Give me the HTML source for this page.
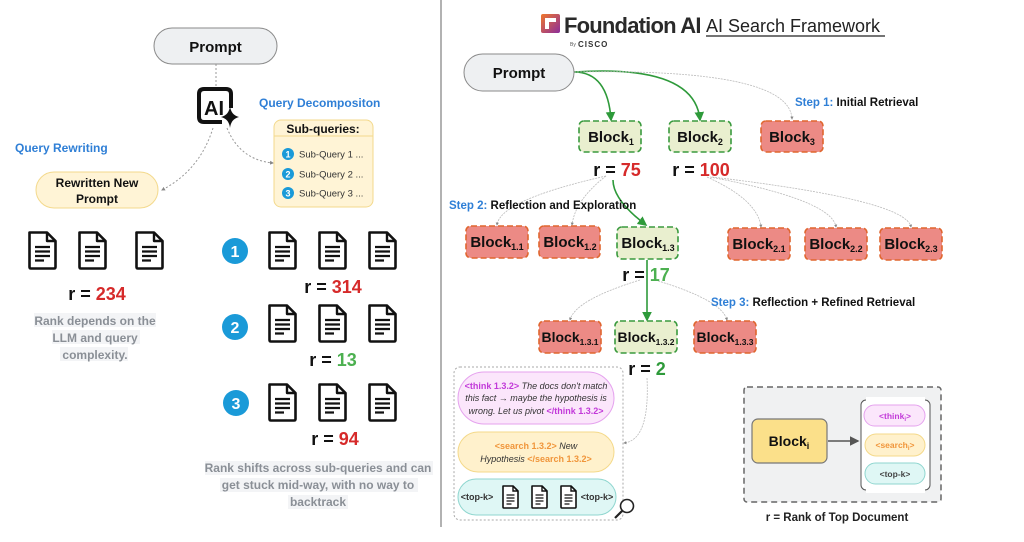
<!DOCTYPE html>
<html><head><meta charset="utf-8"><style>
html,body{margin:0;padding:0;background:#fff;}
svg{display:block;font-family:"Liberation Sans",sans-serif;}
.b{font-weight:bold;}
</style></head><body>
<svg width="1024" height="542" viewBox="0 0 1024 542" xmlns="http://www.w3.org/2000/svg">
<defs>
<g id="doc">
<path d="M1.5 1.5 H19 L27.5 10 V36 Q27.5 37.5 26 37.5 H3 Q1.5 37.5 1.5 36 Z" fill="#fff" stroke="#111" stroke-width="2.6" stroke-linejoin="round"/>
<path d="M19 1.5 V10 H27.5" fill="none" stroke="#111" stroke-width="2.4" stroke-linejoin="round"/>
<path d="M7 16 H22 M7 20.5 H22 M7 25 H22 M7 29.5 H16" stroke="#111" stroke-width="2.2"/>
</g>
<g id="sdoc">
<path d="M1 1 H11 L16 6 V22 Q16 23 15 23 H2 Q1 23 1 22 Z" fill="#fff" stroke="#111" stroke-width="1.6" stroke-linejoin="round"/>
<path d="M11 1 V6 H16" fill="none" stroke="#111" stroke-width="1.4"/>
<path d="M4.5 10 H12.5 M4.5 13 H12.5 M4.5 16 H12.5 M4.5 19 H9.5" stroke="#111" stroke-width="1.3"/>
</g>
<marker id="ag" markerWidth="6" markerHeight="6" refX="5" refY="3" orient="auto"><path d="M0 0 L6 3 L0 6 Z" fill="#2e9a3a"/></marker>
<marker id="ay" markerWidth="4" markerHeight="4" refX="3" refY="2" orient="auto"><path d="M0 0 L4 2 L0 4 Z" fill="#888"/></marker>
<marker id="ad" markerWidth="6" markerHeight="6" refX="5" refY="3" orient="auto"><path d="M0 0 L6 3 L0 6 Z" fill="#555"/></marker>
<linearGradient id="lg" x1="0" y1="0" x2="1" y2="1"><stop offset="0" stop-color="#f0772b"/><stop offset="1" stop-color="#8b2d9c"/></linearGradient>
</defs>

<line x1="441" y1="0" x2="441" y2="527" stroke="#999" stroke-width="1.5"/>

<line x1="216" y1="64" x2="216" y2="88" stroke="#999" stroke-width="1" stroke-dasharray="2 2"/>
<rect x="154" y="28" width="123" height="36" rx="18" fill="#eef0f2" stroke="#8a8a8a"/>
<text x="215.5" y="52" font-size="15" class="b" text-anchor="middle" fill="#111">Prompt</text>

<!-- AI icon -->
<path d="M222 122 H204 Q199 122 199 117 V94 Q199 89 204 89 H226 Q231 89 231 94 V108" fill="none" stroke="#111" stroke-width="4"/>
<text x="214" y="115" font-size="20" class="b" text-anchor="middle" fill="#111">AI</text>
<path d="M230 106 Q231 115 239 117 Q231 119 230 128 Q229 119 221 117 Q229 115 230 106 Z" fill="#111"/>

<path d="M213 128 Q200 170 162 190" fill="none" stroke="#999" stroke-dasharray="2 2" marker-end="url(#ay)"/>
<path d="M227 128 Q240 160 273 163" fill="none" stroke="#999" stroke-dasharray="2 2" marker-end="url(#ay)"/>

<text x="259" y="107" font-size="12" class="b" fill="#2f7fd6">Query Decompositon</text>
<text x="15" y="152" font-size="12" class="b" fill="#2f7fd6">Query Rewriting</text>

<rect x="274" y="120" width="99" height="87" rx="7" fill="#fff4d6" stroke="#f3d98c"/>
<line x1="274" y1="136" x2="373" y2="136" stroke="#f3d98c"/>
<text x="323" y="133" font-size="12" class="b" text-anchor="middle" fill="#111">Sub-queries:</text>
<g font-size="9.5" fill="#333">
<circle cx="288" cy="154" r="6" fill="#1a9ad8"/><text x="288" y="157.5" font-size="9" class="b" text-anchor="middle" fill="#fff">1</text><text x="299" y="157.5">Sub-Query 1 ...</text>
<circle cx="288" cy="174" r="6" fill="#1a9ad8"/><text x="288" y="177.5" font-size="9" class="b" text-anchor="middle" fill="#fff">2</text><text x="299" y="177.5">Sub-Query 2 ...</text>
<circle cx="288" cy="193" r="6" fill="#1a9ad8"/><text x="288" y="196.5" font-size="9" class="b" text-anchor="middle" fill="#fff">3</text><text x="299" y="196.5">Sub-Query 3 ...</text>
</g>

<rect x="36" y="172" width="122" height="36" rx="18" fill="#fff4d6" stroke="#f3d98c"/>
<text x="97" y="187" font-size="12" class="b" text-anchor="middle" fill="#111">Rewritten New</text>
<text x="97" y="203" font-size="12" class="b" text-anchor="middle" fill="#111">Prompt</text>

<use href="#doc" x="28" y="231"/><use href="#doc" x="78" y="231"/><use href="#doc" x="135" y="231"/>
<text x="97" y="300" font-size="18" class="b" text-anchor="middle" fill="#111">r = <tspan fill="#d62a2a">234</tspan></text>
<g font-size="12" class="b" fill="#8a8f96" text-anchor="middle">
<rect x="34" y="313" width="122" height="14" fill="#f3f4f6"/>
<rect x="52" y="330" width="88" height="14" fill="#f3f4f6"/>
<rect x="60" y="347" width="68" height="14" fill="#f3f4f6"/>
<text x="95" y="325">Rank depends on the</text>
<text x="95" y="342">LLM and query</text>
<text x="95" y="359">complexity.</text>
</g>

<g>
<circle cx="235" cy="251" r="13" fill="#1a9ad8"/><text x="235" y="257" font-size="16" class="b" text-anchor="middle" fill="#fff">1</text>
<circle cx="235" cy="327" r="13" fill="#1a9ad8"/><text x="235" y="333" font-size="16" class="b" text-anchor="middle" fill="#fff">2</text>
<circle cx="236" cy="403" r="13" fill="#1a9ad8"/><text x="236" y="409" font-size="16" class="b" text-anchor="middle" fill="#fff">3</text>
</g>
<use href="#doc" x="268" y="231"/><use href="#doc" x="318" y="231"/><use href="#doc" x="368" y="231"/>
<use href="#doc" x="268" y="304"/><use href="#doc" x="318" y="304"/><use href="#doc" x="368" y="304"/>
<use href="#doc" x="268" y="383"/><use href="#doc" x="318" y="383"/><use href="#doc" x="368" y="383"/>
<text x="333" y="293" font-size="18" class="b" text-anchor="middle" fill="#111">r = <tspan fill="#d62a2a">314</tspan></text>
<text x="333" y="366" font-size="18" class="b" text-anchor="middle" fill="#111">r = <tspan fill="#4cb050">13</tspan></text>
<text x="335" y="445" font-size="18" class="b" text-anchor="middle" fill="#111">r = <tspan fill="#d62a2a">94</tspan></text>
<g font-size="12" class="b" fill="#8a8f96" text-anchor="middle">
<rect x="205" y="461" width="228" height="14" fill="#f3f4f6"/>
<rect x="220" y="478" width="198" height="14" fill="#f3f4f6"/>
<rect x="288" y="495" width="60" height="14" fill="#f3f4f6"/>
<text x="318" y="472">Rank shifts across sub-queries and can</text>
<text x="318" y="489">get stuck mid-way, with no way to</text>
<text x="318" y="506">backtrack</text>
</g>

<rect x="541" y="14" width="19" height="19" rx="2" fill="url(#lg)"/>
<path d="M545 18 H556 V22 H549 V29 H545 Z" fill="#fff"/>
<text x="564" y="33" font-size="22" class="b" fill="#2a2a2a" letter-spacing="-0.8">Foundation AI</text>
<text x="570" y="46" font-size="5" fill="#555">By</text>
<text x="578" y="47" font-size="8" class="b" fill="#333" letter-spacing="1">CISCO</text>
<text x="706" y="32" font-size="18" fill="#222">AI Search Framework</text>
<line x1="706" y1="36" x2="885" y2="36" stroke="#222" stroke-width="1.2"/>

<path d="M574 72 Q608 72 611 120" fill="none" stroke="#2e9a3a" stroke-width="1.6" marker-end="url(#ag)"/>
<path d="M574 72 Q695 64 700 120" fill="none" stroke="#2e9a3a" stroke-width="1.6" marker-end="url(#ag)"/>
<path d="M574 72 Q790 68 792 119" fill="none" stroke="#bbb" stroke-width="0.8" stroke-dasharray="2 1" marker-end="url(#ay)"/>
<path d="M613 180 Q613 200 646 225" fill="none" stroke="#2e9a3a" stroke-width="1.6" marker-end="url(#ag)"/>
<path d="M606 176 Q500 200 497 225" fill="none" stroke="#bbb" stroke-width="0.8" stroke-dasharray="2 1" marker-end="url(#ay)"/>
<path d="M606 176 Q575 200 572 225" fill="none" stroke="#bbb" stroke-width="0.8" stroke-dasharray="2 1" marker-end="url(#ay)"/>
<path d="M707 177 Q758 200 761 227" fill="none" stroke="#bbb" stroke-width="0.8" stroke-dasharray="2 1" marker-end="url(#ay)"/>
<path d="M710 177 Q832 200 836 227" fill="none" stroke="#bbb" stroke-width="0.8" stroke-dasharray="2 1" marker-end="url(#ay)"/>
<path d="M712 177 Q906 200 911 227" fill="none" stroke="#bbb" stroke-width="0.8" stroke-dasharray="2 1" marker-end="url(#ay)"/>
<path d="M647 260 L647 320" fill="none" stroke="#2e9a3a" stroke-width="1.6" marker-end="url(#ag)"/>
<path d="M640 280 Q575 300 570 320" fill="none" stroke="#bbb" stroke-width="0.8" stroke-dasharray="2 1" marker-end="url(#ay)"/>
<path d="M655 280 Q722 300 727 320" fill="none" stroke="#bbb" stroke-width="0.8" stroke-dasharray="2 1" marker-end="url(#ay)"/>
<path d="M647 378 Q650 440 624 443" fill="none" stroke="#bbb" stroke-width="0.8" stroke-dasharray="2 1" marker-end="url(#ay)"/>

<rect x="464" y="54" width="110" height="37" rx="18.5" fill="#eef0f2" stroke="#8a8a8a"/>
<text x="519" y="78" font-size="15" class="b" text-anchor="middle" fill="#111">Prompt</text>

<text x="795" y="106" font-size="11.5" class="b" fill="#2f7fd6">Step 1: <tspan fill="#111">Initial Retrieval</tspan></text>
<text x="449" y="209" font-size="11.5" class="b" fill="#2f7fd6">Step 2: <tspan fill="#111">Reflection and Exploration</tspan></text>
<text x="711" y="306" font-size="11.5" class="b" fill="#2f7fd6">Step 3: <tspan fill="#111">Reflection + Refined Retrieval</tspan></text>

<g stroke-width="1.6" stroke-dasharray="6 3">
<rect x="579" y="121" width="62" height="31" rx="5" fill="#e9efcf" stroke="#3a9a3e"/>
<rect x="669" y="121" width="62" height="31" rx="5" fill="#e9efcf" stroke="#3a9a3e"/>
<rect x="761" y="121" width="62" height="31" rx="5" fill="#ec8a85" stroke="#e0662f"/>
<rect x="466" y="226" width="62" height="32" rx="5" fill="#ec8a85" stroke="#e0662f"/>
<rect x="539" y="226" width="61" height="32" rx="5" fill="#ec8a85" stroke="#e0662f"/>
<rect x="617" y="227" width="61" height="32" rx="5" fill="#e9efcf" stroke="#3a9a3e"/>
<rect x="728" y="228" width="62" height="32" rx="5" fill="#ec8a85" stroke="#e0662f"/>
<rect x="805" y="228" width="62" height="32" rx="5" fill="#ec8a85" stroke="#e0662f"/>
<rect x="880" y="228" width="62" height="32" rx="5" fill="#ec8a85" stroke="#e0662f"/>
<rect x="539" y="321" width="62" height="32" rx="5" fill="#ec8a85" stroke="#e0662f"/>
<rect x="615" y="321" width="62" height="32" rx="5" fill="#e9efcf" stroke="#3a9a3e"/>
<rect x="694" y="321" width="62" height="32" rx="5" fill="#ec8a85" stroke="#e0662f"/>
</g>
<g font-size="15" class="b" fill="#111" text-anchor="middle">
<text x="611" y="142">Block<tspan font-size="9" dy="3">1</tspan></text>
<text x="700" y="142">Block<tspan font-size="9" dy="3">2</tspan></text>
<text x="792" y="142">Block<tspan font-size="9" dy="3">3</tspan></text>
<text x="497" y="247">Block<tspan font-size="9" dy="3">1.1</tspan></text>
<text x="570" y="247">Block<tspan font-size="9" dy="3">1.2</tspan></text>
<text x="648" y="248">Block<tspan font-size="9" dy="3">1.3</tspan></text>
<text x="759" y="249">Block<tspan font-size="9" dy="3">2.1</tspan></text>
<text x="836" y="249">Block<tspan font-size="9" dy="3">2.2</tspan></text>
<text x="911" y="249">Block<tspan font-size="9" dy="3">2.3</tspan></text>
</g>
<g font-size="14" class="b" fill="#111" text-anchor="middle">
<text x="570" y="342">Block<tspan font-size="8.5" dy="3">1.3.1</tspan></text>
<text x="646" y="342">Block<tspan font-size="8.5" dy="3">1.3.2</tspan></text>
<text x="725" y="342">Block<tspan font-size="8.5" dy="3">1.3.3</tspan></text>
</g>
<g font-size="18" class="b" fill="#111" text-anchor="middle">
<text x="617" y="176">r = <tspan fill="#d62a2a">75</tspan></text>
<text x="701" y="176">r = <tspan fill="#d62a2a">100</tspan></text>
<text x="646" y="281">r = <tspan fill="#4cb050">17</tspan></text>
<text x="647" y="375">r = <tspan fill="#2e9a3a">2</tspan></text>
</g>

<rect x="454" y="367" width="169" height="153" rx="6" fill="none" stroke="#aaa" stroke-dasharray="2 2"/>
<rect x="458" y="372" width="156" height="52" rx="26" fill="#fbe6fb" stroke="#e5a2ee"/>
<g font-size="9" fill="#333" text-anchor="middle" font-style="italic">
<text x="536" y="389"><tspan fill="#c23ad9" font-weight="bold" font-style="normal">&lt;think 1.3.2&gt;</tspan> The docs don't match</text>
<text x="536" y="401">this fact → maybe the hypothesis is</text>
<text x="536" y="414">wrong. Let us pivot <tspan fill="#c23ad9" font-weight="bold" font-style="normal"> &lt;/think 1.3.2&gt;</tspan></text>
</g>
<rect x="458" y="432" width="156" height="40" rx="20" fill="#fff1cc" stroke="#f4d98a"/>
<g font-size="9" fill="#333" text-anchor="middle" font-style="italic">
<text x="536" y="449"><tspan fill="#f0953a" font-weight="bold" font-style="normal">&lt;search 1.3.2&gt;</tspan> New</text>
<text x="536" y="462">Hypothesis <tspan fill="#f0953a" font-weight="bold" font-style="normal">&lt;/search 1.3.2&gt;</tspan></text>
</g>
<rect x="458" y="479" width="158" height="36" rx="18" fill="#dff7f5" stroke="#8fd6cf"/>
<text x="477" y="500" font-size="9" class="b" fill="#333" text-anchor="middle">&lt;top-k&gt;</text>
<text x="597" y="500" font-size="9" class="b" fill="#333" text-anchor="middle">&lt;top-k&gt;</text>
<use href="#sdoc" x="502" y="485"/><use href="#sdoc" x="531" y="485"/><use href="#sdoc" x="560" y="485"/>
<circle cx="627" cy="506" r="6.5" fill="#fff" stroke="#222" stroke-width="1.6"/>
<line x1="622" y1="511" x2="615" y2="518" stroke="#222" stroke-width="2.2"/>

<rect x="744" y="387" width="197" height="115" rx="3" fill="#f0f1f2" stroke="#666" stroke-width="1.5" stroke-dasharray="6 4"/>
<rect x="752" y="419" width="75" height="44" rx="6" fill="#fbe08a" stroke="#777" stroke-width="1.2"/>
<text x="789" y="446" font-size="14" class="b" text-anchor="middle" fill="#111">Block<tspan font-size="9" dy="3">i</tspan></text>
<line x1="828" y1="441" x2="858" y2="441" stroke="#555" stroke-width="1.6" marker-end="url(#ad)"/>
<rect x="861" y="400" width="69" height="90" rx="5" fill="#fff" stroke="#555"/>
<rect x="866" y="397" width="59" height="6" fill="#fff"/>
<rect x="866" y="487" width="59" height="6" fill="#fff"/>
<rect x="864" y="405" width="61" height="21" rx="10.5" fill="#fbe6fb" stroke="#e5a2ee"/>
<rect x="865" y="434" width="60" height="22" rx="11" fill="#fff1cc" stroke="#f4d98a"/>
<rect x="865" y="463" width="60" height="21" rx="10.5" fill="#dff7f5" stroke="#8fd6cf"/>
<g font-size="8.5" class="b" text-anchor="middle">
<text x="895" y="419" fill="#c23ad9">&lt;think<tspan font-size="6" dy="2">i</tspan><tspan dy="-2">&gt;</tspan></text>
<text x="895" y="448" fill="#f0953a">&lt;search<tspan font-size="6" dy="2">i</tspan><tspan dy="-2">&gt;</tspan></text>
<text x="895" y="477" fill="#444">&lt;top-k&gt;</text>
</g>
<text x="837" y="521" font-size="11.5" class="b" text-anchor="middle" fill="#222">r = Rank of Top Document</text>
</svg>
</body></html>
